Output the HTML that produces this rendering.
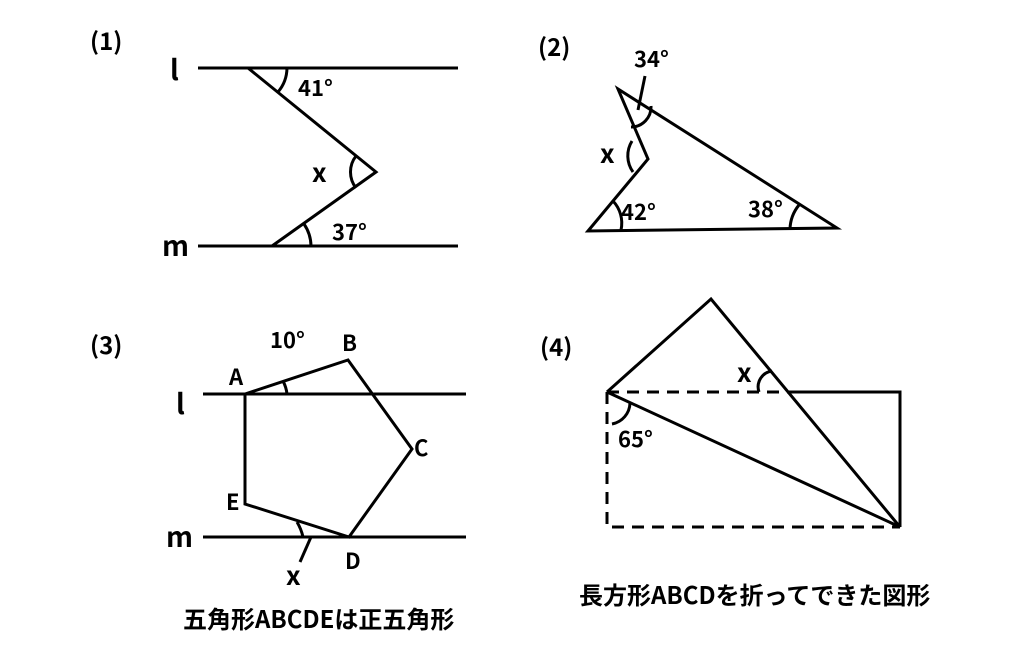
<!DOCTYPE html>
<html><head><meta charset="utf-8"><style>
body{margin:0;background:#fff}
svg text{font-family:"Noto Sans CJK JP","Liberation Sans",sans-serif;font-weight:bold;fill:#000}
</style></head><body>
<svg width="1020" height="649" viewBox="0 0 1020 649" xmlns="http://www.w3.org/2000/svg">
<g stroke="#000" stroke-width="3" fill="none">
<line x1="198" y1="68" x2="458" y2="68"/>
<line x1="198" y1="246" x2="458" y2="246"/>
<polyline points="248,68 376,172 272,246"/>
<path d="M287,68 A38,38 0 0 1 278,92"/>
<path d="M356,156 A26,26 0 0 0 356,188"/>
<path d="M311,246 A40,40 0 0 0 304,224"/>
<polygon points="618,89 648,159 588,231 837,228"/>
<path d="M651,106 A20,20 0 0 1 631,127"/>
<path d="M632,141 A28,28 0 0 0 633,172"/>
<path d="M621,230 A32,32 0 0 0 613,201"/>
<path d="M790,229 A40,40 0 0 1 799,205"/>
<line x1="645" y1="76" x2="638" y2="110"/>
<line x1="203" y1="394" x2="466" y2="394"/>
<line x1="203" y1="537" x2="466" y2="537"/>
<polygon points="245,394 348,360 412,449 349,537 245,504"/>
<path d="M283,381 A36,36 0 0 1 287,394"/>
<path d="M297,522 A50,50 0 0 1 303,537"/>
<line x1="311" y1="537" x2="300" y2="562"/>
<polyline points="607,392 711,299 900,527 607,392"/>
<polyline points="788,392 900,392 900,527"/>
<path d="M607,392 H788 M607,392 V527 H900" stroke-dasharray="12,8"/>
<path d="M759,392 A16,16 0 0 1 772,371"/>
<path d="M630,403 A22,22 0 0 1 612,424"/>
</g>
<g font-size="22">
<text x="90" y="50" font-size="24">(1)</text>
<text x="538" y="56" font-size="24">(2)</text>
<text x="90" y="354" font-size="24">(3)</text>
<text x="540" y="356" font-size="24">(4)</text>
<text x="170" y="80" font-size="28">l</text>
<text x="162" y="256" font-size="28">m</text>
<text x="298" y="96">41°</text>
<text x="312" y="182" font-size="26">x</text>
<text x="332" y="240">37°</text>
<text x="634" y="67">34°</text>
<text x="600" y="163" font-size="26">x</text>
<text x="621" y="220">42°</text>
<text x="748" y="217">38°</text>
<text x="176" y="414" font-size="28">l</text>
<text x="166" y="547" font-size="28">m</text>
<text x="270" y="348">10°</text>
<text x="229" y="385">A</text>
<text x="342" y="351">B</text>
<text x="414" y="456">C</text>
<text x="345" y="569">D</text>
<text x="226" y="510">E</text>
<text x="286" y="585" font-size="26">x</text>
<text x="737" y="382" font-size="26">x</text>
<text x="618" y="447">65°</text>
<text x="183" y="628" font-size="24">五角形ABCDEは正五角形</text>
<text x="579" y="604" font-size="24">長方形ABCDを折ってできた図形</text>
</g>
</svg>
</body></html>
